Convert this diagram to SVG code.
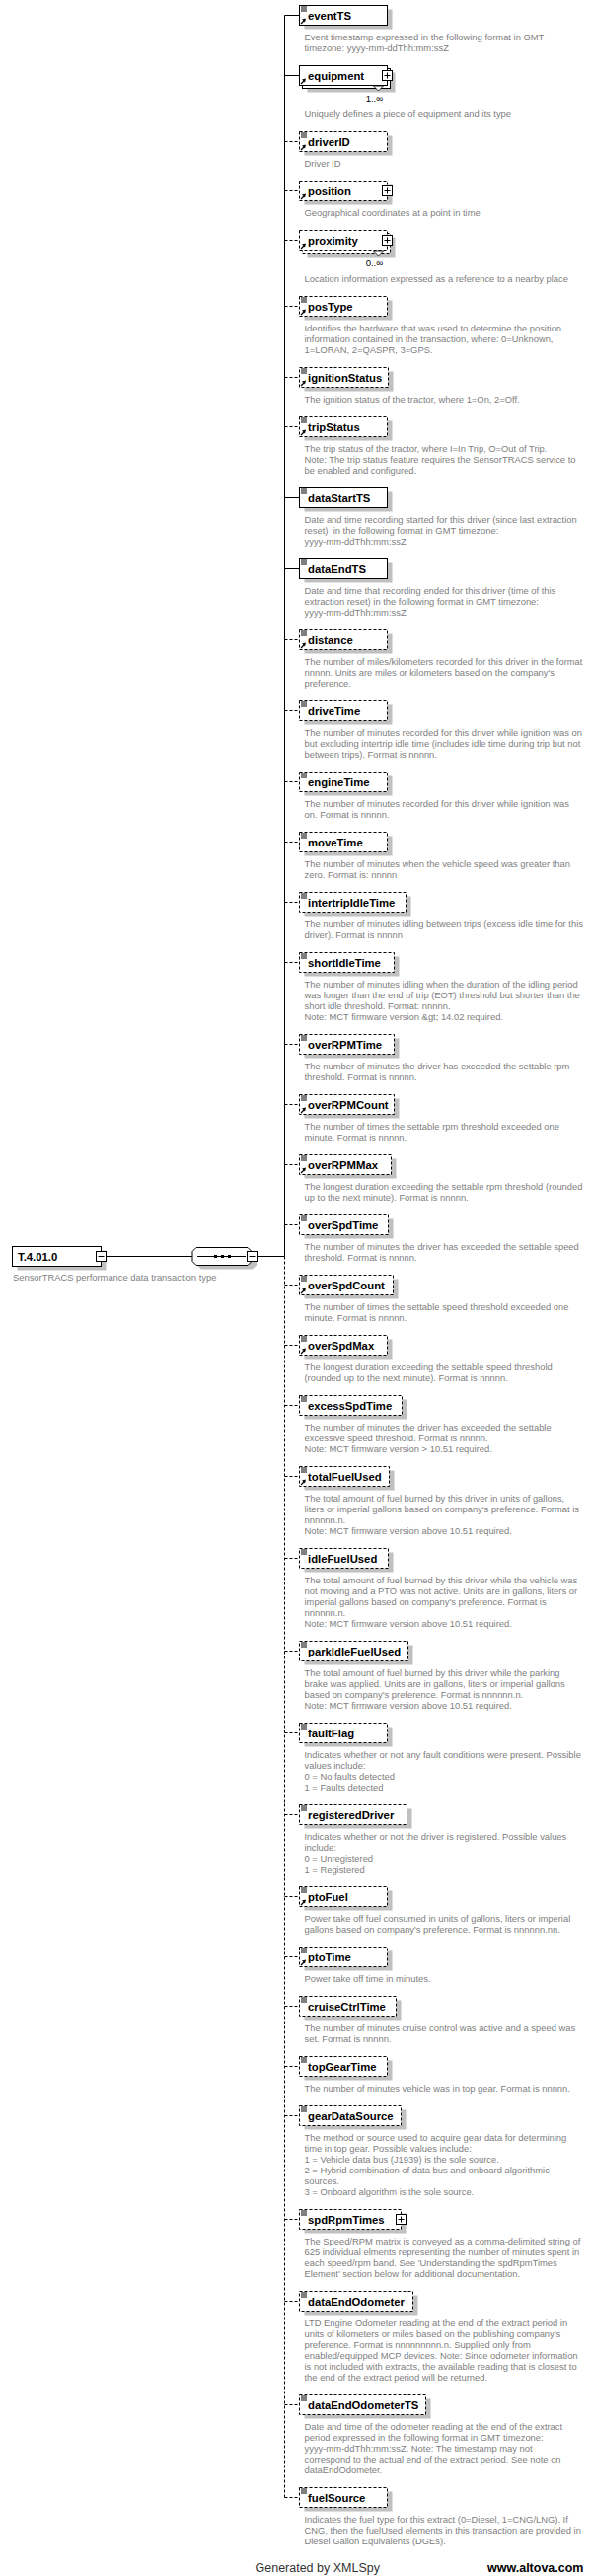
<svg xmlns="http://www.w3.org/2000/svg" xmlns:xlink="http://www.w3.org/1999/xlink" width="600" height="2611" viewBox="0 0 600 2611">
<style>
.sh{fill:#c0c0c0}
.bx{fill:#fff;stroke:#000;stroke-width:1}
.ds{stroke-dasharray:3 2}
.t{font-family:"Liberation Sans",Arial,sans-serif;font-size:11.3px;font-weight:bold;fill:#000}
.d{font-family:"Liberation Sans",Arial,sans-serif;font-size:9.4px;fill:#808080}
.m{font-family:"Liberation Sans",Arial,sans-serif;font-size:9.5px;fill:#000;text-anchor:end}
.c{stroke:#000;stroke-width:1;fill:none}
.ft{font-family:"Liberation Sans",Arial,sans-serif;font-size:12.5px}
</style>
<defs>
<g id="ln"><path d="M305,2h6M305,4h6M305,6h6" stroke="#000" stroke-width="1"/></g>
<g id="ar"><path d="M305,19 L308,16" stroke="#000" stroke-width="1.3"/><polygon points="310,13.5 306,14.5 309,17.5" fill="#000"/></g>
<g id="plbox"><rect x="-5" y="-5" width="10" height="10" fill="#fff" stroke="#000"/><path d="M-3,0h6M0,-3v6" stroke="#000"/></g>
<g id="mibox"><rect x="-5" y="-5" width="10" height="10" fill="#fff" stroke="#000"/><path d="M-3,0h6" stroke="#000"/></g>
</defs>

<g id="connectors">
<path class="c" d="M288.5,15.5V1273.5"/>
<path class="c ds" d="M288.5,1273.5V2531.5"/>
<path class="c" d="M107.5,1273.5H195M260.5,1273.5H288.5"/>
<path class="c" d="M288.5,15.5H303M288.5,76.5H303M288.5,504.5H303M288.5,576.5H303"/>
<path class="c ds" d="M288.5,143.5H303M288.5,193.5H303M288.5,243.5H303M288.5,310.5H303M288.5,382.5H303M288.5,432.5H303M288.5,648.5H303M288.5,720.5H303M288.5,792.5H303M288.5,853.5H303M288.5,914.5H303M288.5,975.5H303M288.5,1058.5H303M288.5,1119.5H303M288.5,1180.5H303M288.5,1241.5H303M288.5,1302.5H303M288.5,1363.5H303M288.5,1424.5H303M288.5,1496.5H303M288.5,1579.5H303M288.5,1673.5H303M288.5,1756.5H303M288.5,1839.5H303M288.5,1922.5H303M288.5,1983.5H303M288.5,2033.5H303M288.5,2094.5H303M288.5,2144.5H303M288.5,2249.5H303M288.5,2332.5H303M288.5,2437.5H303M288.5,2531.5H303"/>
</g>

<g id="T.4.01.0">
<rect class="sh" x="17.5" y="1267.5" width="90" height="20"/>
<rect class="bx" x="12.5" y="1263.5" width="90" height="20"/>
<text class="t" x="18" y="1277.5">T.4.01.0</text>
<use href="#mibox" x="102.5" y="1273.5"/>
<text class="d" x="13" y="1298">SensorTRACS performance data transaction type</text>
</g>

<g id="sequence">
<path class="sh" d="M204,1268.5H256L260,1272.5V1282.5L256,1286.5H204L200,1282.5V1272.5Z"/>
<path class="bx" d="M199,1264.5H251L255,1268.5V1278.5L251,1282.5H199L195,1278.5V1268.5Z"/>
<path class="c" d="M200,1273.5H249"/>
<rect x="217" y="1272" width="3" height="3" fill="#000"/><rect x="224" y="1272" width="3" height="3" fill="#000"/><rect x="231" y="1272" width="3" height="3" fill="#000"/>
<use href="#mibox" x="255.5" y="1273.5"/>
</g>

<g id="eventTS" transform="translate(0,5)">
<rect class="sh" x="308.5" y="4.5" width="89" height="20"/><rect class="bx" x="303.5" y="0.5" width="89" height="20"/>
<use href="#ln"/><use href="#ar"/><text class="t" x="312" y="14.5">eventTS</text>
<text class="d" x="308.5" y="35.5">Event timestamp expressed in the following format in GMT<tspan x="308.5" dy="11">timezone: yyyy-mm-ddThh:mm:ssZ</tspan></text>
</g>

<g id="equipment" transform="translate(0,66)">
<rect class="sh" x="311.5" y="7.5" width="89" height="20"/>
<rect class="bx" x="306.5" y="3.5" width="89" height="20"/>
<rect class="bx" x="303.5" y="0.5" width="89" height="20"/>
<use href="#ar"/><text class="t" x="312" y="14.5">equipment</text>
<use href="#plbox" x="392.5" y="10.5"/>
<polygon points="378.5,21 388.5,21 383.5,26" fill="#fff" stroke="#000" stroke-width="0.8"/>
<text class="m" x="388" y="37">1..∞</text>
<text class="d" x="308.5" y="53">Uniquely defines a piece of equipment and its type</text>
</g>

<g id="driverID" transform="translate(0,133)">
<rect class="sh" x="308.5" y="4.5" width="89" height="20"/><rect class="bx ds" x="303.5" y="0.5" width="89" height="20"/>
<use href="#ln"/><use href="#ar"/><text class="t" x="312" y="14.5">driverID</text>
<text class="d" x="308.5" y="35.5">Driver ID</text>
</g>

<g id="position" transform="translate(0,183)">
<rect class="sh" x="308.5" y="4.5" width="89" height="20"/><rect class="bx ds" x="303.5" y="0.5" width="89" height="20"/>
<use href="#ar"/><text class="t" x="312" y="14.5">position</text>
<use href="#plbox" x="392.5" y="10.5"/>
<text class="d" x="308.5" y="35.5">Geographical coordinates at a point in time</text>
</g>

<g id="proximity" transform="translate(0,233)">
<rect class="sh" x="311.5" y="7.5" width="89" height="20"/>
<rect class="bx ds" x="306.5" y="3.5" width="89" height="20"/>
<rect class="bx ds" x="303.5" y="0.5" width="89" height="20"/>
<use href="#ar"/><text class="t" x="312" y="14.5">proximity</text>
<use href="#plbox" x="392.5" y="10.5"/>
<polygon points="378.5,21 388.5,21 383.5,26" fill="#fff" stroke="#000" stroke-width="0.8"/>
<text class="m" x="388" y="37">0..∞</text>
<text class="d" x="308.5" y="53">Location information expressed as a reference to a nearby place</text>
</g>

<g id="posType" transform="translate(0,300)">
<rect class="sh" x="308.5" y="4.5" width="89" height="20"/><rect class="bx ds" x="303.5" y="0.5" width="89" height="20"/>
<use href="#ln"/><use href="#ar"/><text class="t" x="312" y="14.5">posType</text>
<text class="d" x="308.5" y="35.5">Identifies the hardware that was used to determine the position<tspan x="308.5" dy="11">information contained in the transaction, where: 0=Unknown,</tspan><tspan x="308.5" dy="11">1=LORAN, 2=QASPR, 3=GPS.</tspan></text>
</g>

<g id="ignitionStatus" transform="translate(0,372)">
<rect class="sh" x="308.5" y="4.5" width="90" height="20"/><rect class="bx ds" x="303.5" y="0.5" width="90" height="20"/>
<use href="#ln"/><use href="#ar"/><text class="t" x="312" y="14.5">ignitionStatus</text>
<text class="d" x="308.5" y="35.5">The ignition status of the tractor, where 1=On, 2=Off.</text>
</g>

<g id="tripStatus" transform="translate(0,422)">
<rect class="sh" x="308.5" y="4.5" width="89" height="20"/><rect class="bx ds" x="303.5" y="0.5" width="89" height="20"/>
<use href="#ln"/><use href="#ar"/><text class="t" x="312" y="14.5">tripStatus</text>
<text class="d" x="308.5" y="35.5">The trip status of the tractor, where I=In Trip, O=Out of Trip.<tspan x="308.5" dy="11">Note: The trip status feature requires the SensorTRACS service to</tspan><tspan x="308.5" dy="11">be enabled and configured.</tspan></text>
</g>

<g id="dataStartTS" transform="translate(0,494)">
<rect class="sh" x="308.5" y="4.5" width="89" height="20"/><rect class="bx" x="303.5" y="0.5" width="89" height="20"/>
<use href="#ln"/><text class="t" x="312" y="14.5">dataStartTS</text>
<text class="d" x="308.5" y="35.5">Date and time recording started for this driver (since last extraction<tspan x="308.5" dy="11">reset)&#160; in the following format in GMT timezone:</tspan><tspan x="308.5" dy="11">yyyy-mm-ddThh:mm:ssZ</tspan></text>
</g>

<g id="dataEndTS" transform="translate(0,566)">
<rect class="sh" x="308.5" y="4.5" width="89" height="20"/><rect class="bx" x="303.5" y="0.5" width="89" height="20"/>
<use href="#ln"/><text class="t" x="312" y="14.5">dataEndTS</text>
<text class="d" x="308.5" y="35.5">Date and time that recording ended for this driver (time of this<tspan x="308.5" dy="11">extraction reset) in the following format in GMT timezone:</tspan><tspan x="308.5" dy="11">yyyy-mm-ddThh:mm:ssZ</tspan></text>
</g>

<g id="distance" transform="translate(0,638)">
<rect class="sh" x="308.5" y="4.5" width="89" height="20"/><rect class="bx ds" x="303.5" y="0.5" width="89" height="20"/>
<use href="#ln"/><use href="#ar"/><text class="t" x="312" y="14.5">distance</text>
<text class="d" x="308.5" y="35.5">The number of miles/kilometers recorded for this driver in the format<tspan x="308.5" dy="11">nnnnn. Units are miles or kilometers based on the company's</tspan><tspan x="308.5" dy="11">preference.</tspan></text>
</g>

<g id="driveTime" transform="translate(0,710)">
<rect class="sh" x="308.5" y="4.5" width="89" height="20"/><rect class="bx ds" x="303.5" y="0.5" width="89" height="20"/>
<use href="#ln"/><text class="t" x="312" y="14.5">driveTime</text>
<text class="d" x="308.5" y="35.5">The number of minutes recorded for this driver while ignition was on<tspan x="308.5" dy="11">but excluding intertrip idle time (includes idle time during trip but not</tspan><tspan x="308.5" dy="11">between trips). Format is nnnnn.</tspan></text>
</g>

<g id="engineTime" transform="translate(0,782)">
<rect class="sh" x="308.5" y="4.5" width="89" height="20"/><rect class="bx ds" x="303.5" y="0.5" width="89" height="20"/>
<use href="#ln"/><text class="t" x="312" y="14.5">engineTime</text>
<text class="d" x="308.5" y="35.5">The number of minutes recorded for this driver while ignition was<tspan x="308.5" dy="11">on. Format is nnnnn.</tspan></text>
</g>

<g id="moveTime" transform="translate(0,843)">
<rect class="sh" x="308.5" y="4.5" width="89" height="20"/><rect class="bx ds" x="303.5" y="0.5" width="89" height="20"/>
<use href="#ln"/><text class="t" x="312" y="14.5">moveTime</text>
<text class="d" x="308.5" y="35.5">The number of minutes when the vehicle speed was greater than<tspan x="308.5" dy="11">zero. Format is: nnnnn</tspan></text>
</g>

<g id="intertripIdleTime" transform="translate(0,904)">
<rect class="sh" x="308.5" y="4.5" width="108" height="20"/><rect class="bx ds" x="303.5" y="0.5" width="108" height="20"/>
<use href="#ln"/><text class="t" x="312" y="14.5">intertripIdleTime</text>
<text class="d" x="308.5" y="35.5">The number of minutes idling between trips (excess idle time for this<tspan x="308.5" dy="11">driver). Format is nnnnn</tspan></text>
</g>

<g id="shortIdleTime" transform="translate(0,965)">
<rect class="sh" x="308.5" y="4.5" width="96" height="20"/><rect class="bx ds" x="303.5" y="0.5" width="96" height="20"/>
<use href="#ln"/><text class="t" x="312" y="14.5">shortIdleTime</text>
<text class="d" x="308.5" y="35.5">The number of minutes idling when the duration of the idling period<tspan x="308.5" dy="11">was longer than the end of trip (EOT) threshold but shorter than the</tspan><tspan x="308.5" dy="11">short idle threshold. Format: nnnnn.</tspan><tspan x="308.5" dy="11">Note: MCT firmware version &amp;gt; 14.02 required.</tspan></text>
</g>

<g id="overRPMTime" transform="translate(0,1048)">
<rect class="sh" x="308.5" y="4.5" width="96" height="20"/><rect class="bx ds" x="303.5" y="0.5" width="96" height="20"/>
<use href="#ln"/><text class="t" x="312" y="14.5">overRPMTime</text>
<text class="d" x="308.5" y="35.5">The number of minutes the driver has exceeded the settable rpm<tspan x="308.5" dy="11">threshold. Format is nnnnn.</tspan></text>
</g>

<g id="overRPMCount" transform="translate(0,1109)">
<rect class="sh" x="308.5" y="4.5" width="96" height="20"/><rect class="bx ds" x="303.5" y="0.5" width="96" height="20"/>
<use href="#ln"/><use href="#ar"/><text class="t" x="312" y="14.5">overRPMCount</text>
<text class="d" x="308.5" y="35.5">The number of times the settable rpm threshold exceeded one<tspan x="308.5" dy="11">minute. Format is nnnnn.</tspan></text>
</g>

<g id="overRPMMax" transform="translate(0,1170)">
<rect class="sh" x="308.5" y="4.5" width="93" height="20"/><rect class="bx ds" x="303.5" y="0.5" width="93" height="20"/>
<use href="#ln"/><use href="#ar"/><text class="t" x="312" y="14.5">overRPMMax</text>
<text class="d" x="308.5" y="35.5">The longest duration exceeding the settable rpm threshold (rounded<tspan x="308.5" dy="11">up to the next minute). Format is nnnnn.</tspan></text>
</g>

<g id="overSpdTime" transform="translate(0,1231)">
<rect class="sh" x="308.5" y="4.5" width="90" height="20"/><rect class="bx ds" x="303.5" y="0.5" width="90" height="20"/>
<use href="#ln"/><text class="t" x="312" y="14.5">overSpdTime</text>
<text class="d" x="308.5" y="35.5">The number of minutes the driver has exceeded the settable speed<tspan x="308.5" dy="11">threshold. Format is nnnnn.</tspan></text>
</g>

<g id="overSpdCount" transform="translate(0,1292)">
<rect class="sh" x="308.5" y="4.5" width="95" height="20"/><rect class="bx ds" x="303.5" y="0.5" width="95" height="20"/>
<use href="#ln"/><use href="#ar"/><text class="t" x="312" y="14.5">overSpdCount</text>
<text class="d" x="308.5" y="35.5">The number of times the settable speed threshold exceeded one<tspan x="308.5" dy="11">minute. Format is nnnnn.</tspan></text>
</g>

<g id="overSpdMax" transform="translate(0,1353)">
<rect class="sh" x="308.5" y="4.5" width="89" height="20"/><rect class="bx ds" x="303.5" y="0.5" width="89" height="20"/>
<use href="#ln"/><use href="#ar"/><text class="t" x="312" y="14.5">overSpdMax</text>
<text class="d" x="308.5" y="35.5">The longest duration exceeding the settable speed threshold<tspan x="308.5" dy="11">(rounded up to the next minute). Format is nnnnn.</tspan></text>
</g>

<g id="excessSpdTime" transform="translate(0,1414)">
<rect class="sh" x="308.5" y="4.5" width="104" height="20"/><rect class="bx ds" x="303.5" y="0.5" width="104" height="20"/>
<use href="#ln"/><text class="t" x="312" y="14.5">excessSpdTime</text>
<text class="d" x="308.5" y="35.5">The number of minutes the driver has exceeded the settable<tspan x="308.5" dy="11">excessive speed threshold. Format is nnnnn.</tspan><tspan x="308.5" dy="11">Note: MCT firmware version &gt; 10.51 required.</tspan></text>
</g>

<g id="totalFuelUsed" transform="translate(0,1486)">
<rect class="sh" x="308.5" y="4.5" width="91" height="20"/><rect class="bx ds" x="303.5" y="0.5" width="91" height="20"/>
<use href="#ln"/><use href="#ar"/><text class="t" x="312" y="14.5">totalFuelUsed</text>
<text class="d" x="308.5" y="35.5">The total amount of fuel burned by this driver in units of gallons,<tspan x="308.5" dy="11">liters or imperial gallons based on company's preference. Format is</tspan><tspan x="308.5" dy="11">nnnnnn.n.</tspan><tspan x="308.5" dy="11">Note: MCT firmware version above 10.51 required.</tspan></text>
</g>

<g id="idleFuelUsed" transform="translate(0,1569)">
<rect class="sh" x="308.5" y="4.5" width="90" height="20"/><rect class="bx ds" x="303.5" y="0.5" width="90" height="20"/>
<use href="#ln"/><text class="t" x="312" y="14.5">idleFuelUsed</text>
<text class="d" x="308.5" y="35.5">The total amount of fuel burned by this driver while the vehicle was<tspan x="308.5" dy="11">not moving and a PTO was not active. Units are in gallons, liters or</tspan><tspan x="308.5" dy="11">imperial gallons based on company's preference. Format is</tspan><tspan x="308.5" dy="11">nnnnnn.n.</tspan><tspan x="308.5" dy="11">Note: MCT firmware version above 10.51 required.</tspan></text>
</g>

<g id="parkIdleFuelUsed" transform="translate(0,1663)">
<rect class="sh" x="308.5" y="4.5" width="110" height="20"/><rect class="bx ds" x="303.5" y="0.5" width="110" height="20"/>
<use href="#ln"/><text class="t" x="312" y="14.5">parkIdleFuelUsed</text>
<text class="d" x="308.5" y="35.5">The total amount of fuel burned by this driver while the parking<tspan x="308.5" dy="11">brake was applied. Units are in gallons, liters or imperial gallons</tspan><tspan x="308.5" dy="11">based on company's preference. Format is nnnnnn.n.</tspan><tspan x="308.5" dy="11">Note: MCT firmware version above 10.51 required.</tspan></text>
</g>

<g id="faultFlag" transform="translate(0,1746)">
<rect class="sh" x="308.5" y="4.5" width="89" height="20"/><rect class="bx ds" x="303.5" y="0.5" width="89" height="20"/>
<use href="#ln"/><text class="t" x="312" y="14.5">faultFlag</text>
<text class="d" x="308.5" y="35.5">Indicates whether or not any fault conditions were present. Possible<tspan x="308.5" dy="11">values include:</tspan><tspan x="308.5" dy="11">0 = No faults detected</tspan><tspan x="308.5" dy="11">1 = Faults detected</tspan></text>
</g>

<g id="registeredDriver" transform="translate(0,1829)">
<rect class="sh" x="308.5" y="4.5" width="109" height="20"/><rect class="bx ds" x="303.5" y="0.5" width="109" height="20"/>
<use href="#ln"/><text class="t" x="312" y="14.5">registeredDriver</text>
<text class="d" x="308.5" y="35.5">Indicates whether or not the driver is registered. Possible values<tspan x="308.5" dy="11">include:</tspan><tspan x="308.5" dy="11">0 = Unregistered</tspan><tspan x="308.5" dy="11">1 = Registered</tspan></text>
</g>

<g id="ptoFuel" transform="translate(0,1912)">
<rect class="sh" x="308.5" y="4.5" width="89" height="20"/><rect class="bx ds" x="303.5" y="0.5" width="89" height="20"/>
<use href="#ln"/><use href="#ar"/><text class="t" x="312" y="14.5">ptoFuel</text>
<text class="d" x="308.5" y="35.5">Power take off fuel consumed in units of gallons, liters or imperial<tspan x="308.5" dy="11">gallons based on company's preference. Format is nnnnnn.nn.</tspan></text>
</g>

<g id="ptoTime" transform="translate(0,1973)">
<rect class="sh" x="308.5" y="4.5" width="89" height="20"/><rect class="bx ds" x="303.5" y="0.5" width="89" height="20"/>
<use href="#ln"/><use href="#ar"/><text class="t" x="312" y="14.5">ptoTime</text>
<text class="d" x="308.5" y="35.5">Power take off time in minutes.</text>
</g>

<g id="cruiseCtrlTime" transform="translate(0,2023)">
<rect class="sh" x="308.5" y="4.5" width="98" height="20"/><rect class="bx ds" x="303.5" y="0.5" width="98" height="20"/>
<use href="#ln"/><text class="t" x="312" y="14.5">cruiseCtrlTime</text>
<text class="d" x="308.5" y="35.5">The number of minutes cruise control was active and a speed was<tspan x="308.5" dy="11">set. Format is nnnnn.</tspan></text>
</g>

<g id="topGearTime" transform="translate(0,2084)">
<rect class="sh" x="308.5" y="4.5" width="89" height="20"/><rect class="bx ds" x="303.5" y="0.5" width="89" height="20"/>
<use href="#ln"/><text class="t" x="312" y="14.5">topGearTime</text>
<text class="d" x="308.5" y="35.5">The number of minutes vehicle was in top gear. Format is nnnnn.</text>
</g>

<g id="gearDataSource" transform="translate(0,2134)">
<rect class="sh" x="308.5" y="4.5" width="103" height="20"/><rect class="bx ds" x="303.5" y="0.5" width="103" height="20"/>
<use href="#ln"/><text class="t" x="312" y="14.5">gearDataSource</text>
<text class="d" x="308.5" y="35.5">The method or source used to acquire gear data for determining<tspan x="308.5" dy="11">time in top gear. Possible values include:</tspan><tspan x="308.5" dy="11">1 = Vehicle data bus (J1939) is the sole source.</tspan><tspan x="308.5" dy="11">2 = Hybrid combination of data bus and onboard algorithmic</tspan><tspan x="308.5" dy="11">sources.</tspan><tspan x="308.5" dy="11">3 = Onboard algorithm is the sole source.</tspan></text>
</g>

<g id="spdRpmTimes" transform="translate(0,2239)">
<rect class="sh" x="308.5" y="4.5" width="103" height="20"/><rect class="bx ds" x="303.5" y="0.5" width="103" height="20"/>
<use href="#ln"/><text class="t" x="312" y="14.5">spdRpmTimes</text>
<use href="#plbox" x="406.5" y="10.5"/>
<text class="d" x="308.5" y="35.5">The Speed/RPM matrix is conveyed as a comma-delimited string of<tspan x="308.5" dy="11">625 individual elments representing the number of minutes spent in</tspan><tspan x="308.5" dy="11">each speed/rpm band. See 'Understanding the spdRpmTimes</tspan><tspan x="308.5" dy="11">Element' section below for additional documentation.</tspan></text>
</g>

<g id="dataEndOdometer" transform="translate(0,2322)">
<rect class="sh" x="308.5" y="4.5" width="115" height="20"/><rect class="bx ds" x="303.5" y="0.5" width="115" height="20"/>
<use href="#ln"/><text class="t" x="312" y="14.5">dataEndOdometer</text>
<text class="d" x="308.5" y="35.5">LTD Engine Odometer reading at the end of the extract period in<tspan x="308.5" dy="11">units of kilometers or miles based on the publishing company's</tspan><tspan x="308.5" dy="11">preference. Format is nnnnnnnnn.n. Supplied only from</tspan><tspan x="308.5" dy="11">enabled/equipped MCP devices. Note: Since odometer information</tspan><tspan x="308.5" dy="11">is not included with extracts, the available reading that is closest to</tspan><tspan x="308.5" dy="11">the end of the extract period will be returned.</tspan></text>
</g>

<g id="dataEndOdometerTS" transform="translate(0,2427)">
<rect class="sh" x="308.5" y="4.5" width="128" height="20"/><rect class="bx ds" x="303.5" y="0.5" width="128" height="20"/>
<use href="#ln"/><text class="t" x="312" y="14.5">dataEndOdometerTS</text>
<text class="d" x="308.5" y="35.5">Date and time of the odometer reading at the end of the extract<tspan x="308.5" dy="11">period expressed in the following format in GMT timezone:</tspan><tspan x="308.5" dy="11">yyyy-mm-ddThh:mm:ssZ. Note: The timestamp may not</tspan><tspan x="308.5" dy="11">correspond to the actual end of the extract period. See note on</tspan><tspan x="308.5" dy="11">dataEndOdometer.</tspan></text>
</g>

<g id="fuelSource" transform="translate(0,2521)">
<rect class="sh" x="308.5" y="4.5" width="89" height="20"/><rect class="bx ds" x="303.5" y="0.5" width="89" height="20"/>
<use href="#ln"/><text class="t" x="312" y="14.5">fuelSource</text>
<text class="d" x="308.5" y="35.5">Indicates the fuel type for this extract (0=Diesel, 1=CNG/LNG). If<tspan x="308.5" dy="11">CNG, then the fuelUsed elements in this transaction are provided in</tspan><tspan x="308.5" dy="11">Diesel Gallon Equivalents (DGEs).</tspan></text>
</g>

<g id="footer">
<text class="ft" x="258.5" y="2607" fill="#333">Generated by XMLSpy</text>
<text class="ft" x="494" y="2607" font-weight="bold" fill="#000">www.altova.com</text>
</g>
</svg>
